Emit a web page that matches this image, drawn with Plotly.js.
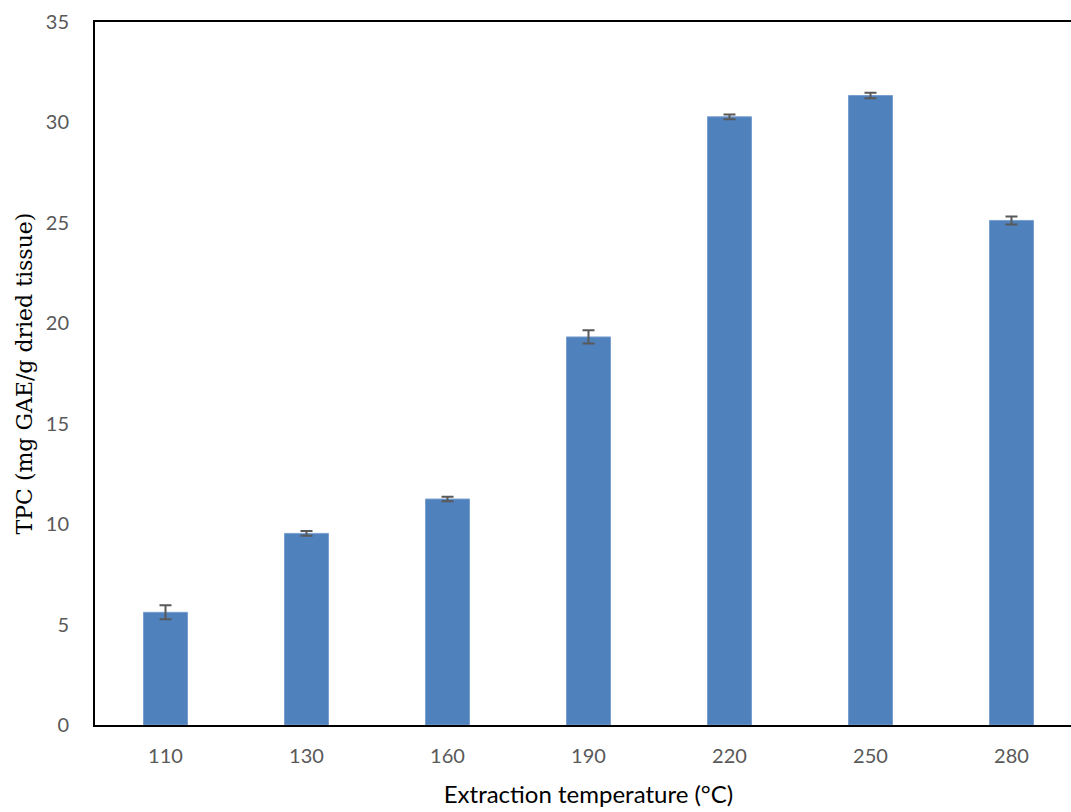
<!DOCTYPE html>
<html>
<head>
<meta charset="utf-8">
<script src="https://cdn.plot.ly/plotly-3.0.1.min.js"></script>
<style>
html,body{margin:0;padding:0;background:#fff;overflow:hidden;width:1071px;height:812px;}
#chart{width:1083px;height:812px;}
</style>
</head>
<body>
<div id="chart"></div>
<script>
// Data
var temperatures = ["110", "130", "160", "190", "220", "250", "280"];
var tpcValues = [5.61, 9.54, 11.25, 19.32, 30.28, 31.34, 25.12];
var tpcErrors = [0.35, 0.12, 0.11, 0.33, 0.12, 0.14, 0.20];
var yTicks = [0, 5, 10, 15, 20, 25, 30, 35];

var trace = {
  type: "bar",
  x: temperatures,
  y: tpcValues,
  width: 0.312,
  marker: {color: "#4F81BD", line: {color: "#7A9FCF", width: 1}},
  error_y: {type: "data", array: tpcErrors, visible: true, color: "#595959", thickness: 2, width: 6},
  hoverinfo: "x+y"
};

var layout = {
  width: 1083,
  height: 812,
  margin: {l: 95, r: 1, t: 22, b: 87},
  paper_bgcolor: "#ffffff",
  plot_bgcolor: "#ffffff",
  showlegend: false,
  xaxis: {
    type: "category",
    range: [-0.5, 6.5],
    showline: true,
    linecolor: "#000000",
    linewidth: 2,
    mirror: true,
    ticks: "",
    showgrid: false,
    zeroline: false,
    tickfont: {family: "Lato, Open Sans, sans-serif", size: 20, color: "#595959"},
    ticklabelstandoff: 12,
    title: {text: "Extraction temperature (°C)", font: {family: "Lato, Open Sans, sans-serif", size: 24, color: "#000000"}, standoff: 20}
  },
  yaxis: {
    range: [0, 35],
    tickvals: yTicks,
    ticktext: yTicks.map(String),
    showline: true,
    linecolor: "#000000",
    linewidth: 2,
    ticks: "",
    showgrid: false,
    zeroline: false,
    tickfont: {family: "Lato, Open Sans, sans-serif", size: 20, color: "#595959"},
    ticklabelstandoff: 20,
    title: {text: "TPC (mg GAE/g dried tissue)", font: {family: "DejaVu Serif, Liberation Serif, serif", size: 22, color: "#000000"}, standoff: 7}
  }
};

Plotly.newPlot("chart", [trace], layout, {displayModeBar: false, staticPlot: true});
</script>
</body>
</html>
